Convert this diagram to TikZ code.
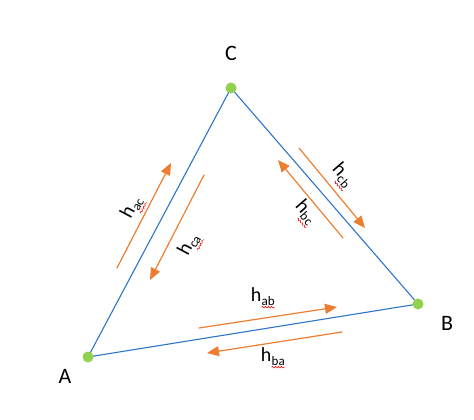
\documentclass[tikz,border=0pt]{standalone}
\usepackage{fontspec}
\setmainfont{Carlito}
\usetikzlibrary{arrows.meta,decorations.pathmorphing}
\definecolor{edgeblue}{RGB}{46,117,200}
\definecolor{flow}{RGB}{237,125,49}
\definecolor{dotgreen}{RGB}{146,208,80}
\newcommand\redwave[1]{\tikz[baseline=(w.base), x=1cm, y=1cm]{%
	\node[inner sep=0pt] (w) {#1};
	\draw[red, line width=0.5pt, decorate, decoration={snake, amplitude=0.9pt, segment length=3pt}]
		([yshift=-1.8pt]w.south west) -- ([yshift=-1.8pt]w.south east);}}
\newcommand\hlab[1]{h\raisebox{-3.5pt}{\fontsize{13}{14}\selectfont\redwave{#1}}}
\begin{document}
\begin{tikzpicture}[x=1pt, y=-1pt, line join=round, line cap=round,
		side/.style={edgeblue, line width=1.1pt},
		flowarrow/.style={flow, line width=1.2pt, -{Triangle[length=12pt,width=10pt]}},
		vlabel/.style={font=\fontsize{22}{26}\selectfont},
		hlabel/.style={font=\fontsize{20}{24}\selectfont, inner sep=0pt}]
			\useasboundingbox (0,0) rectangle (474,420);
			\coordinate (A) at (88,357);
			\coordinate (B) at (418,304);
			\coordinate (C) at (231,88);
			% arrow ends
			\coordinate (ac1) at (117,268);
			\coordinate (ac2) at (171,163);
			\coordinate (ca1) at (204,175);
			\coordinate (ca2) at (150,280);
			\coordinate (cb1) at (299,148);
			\coordinate (cb2) at (365,228);
			\coordinate (bc1) at (343,238);
			\coordinate (bc2) at (278,160);
			\coordinate (ab1) at (199,328);
			\coordinate (ab2) at (337,307);
			\coordinate (ba1) at (342,332);
			\coordinate (ba2) at (207,353);
			\draw[side] (A)--(B)--(C)--cycle;
			\fill[dotgreen] (A) circle (5.5pt) (B) circle (5.5pt) (C) circle (5.5pt);
			\node[vlabel] (labA) at (65,376) {A};
			\node[vlabel] (labB) at (447,323) {B};
			\node[vlabel] (labC) at (231,53) {C};
			\draw[flowarrow] (ac1)--(ac2);
			\draw[flowarrow] (ca1)--(ca2);
			\draw[flowarrow] (cb1)--(cb2);
			\draw[flowarrow] (bc1)--(bc2);
			\draw[flowarrow] (ab1)--(ab2);
			\draw[flowarrow] (ba1)--(ba2);
			\node[hlabel, rotate=62] (hac) at (133,208) {\hlab{ac}};
			\node[hlabel, rotate=62] (hca) at (190,245) {\hlab{ca}};
			\node[hlabel, rotate=-49] (hcb) at (342,176) {\hlab{cb}};
			\node[hlabel, rotate=-49] (hbc) at (305,213) {\hlab{bc}};
			\node[hlabel] (hab) at (263,298) {\hlab{ab}};
			\node[hlabel] (hba) at (273,358) {\hlab{ba}};
		\end{tikzpicture}
\end{document}
